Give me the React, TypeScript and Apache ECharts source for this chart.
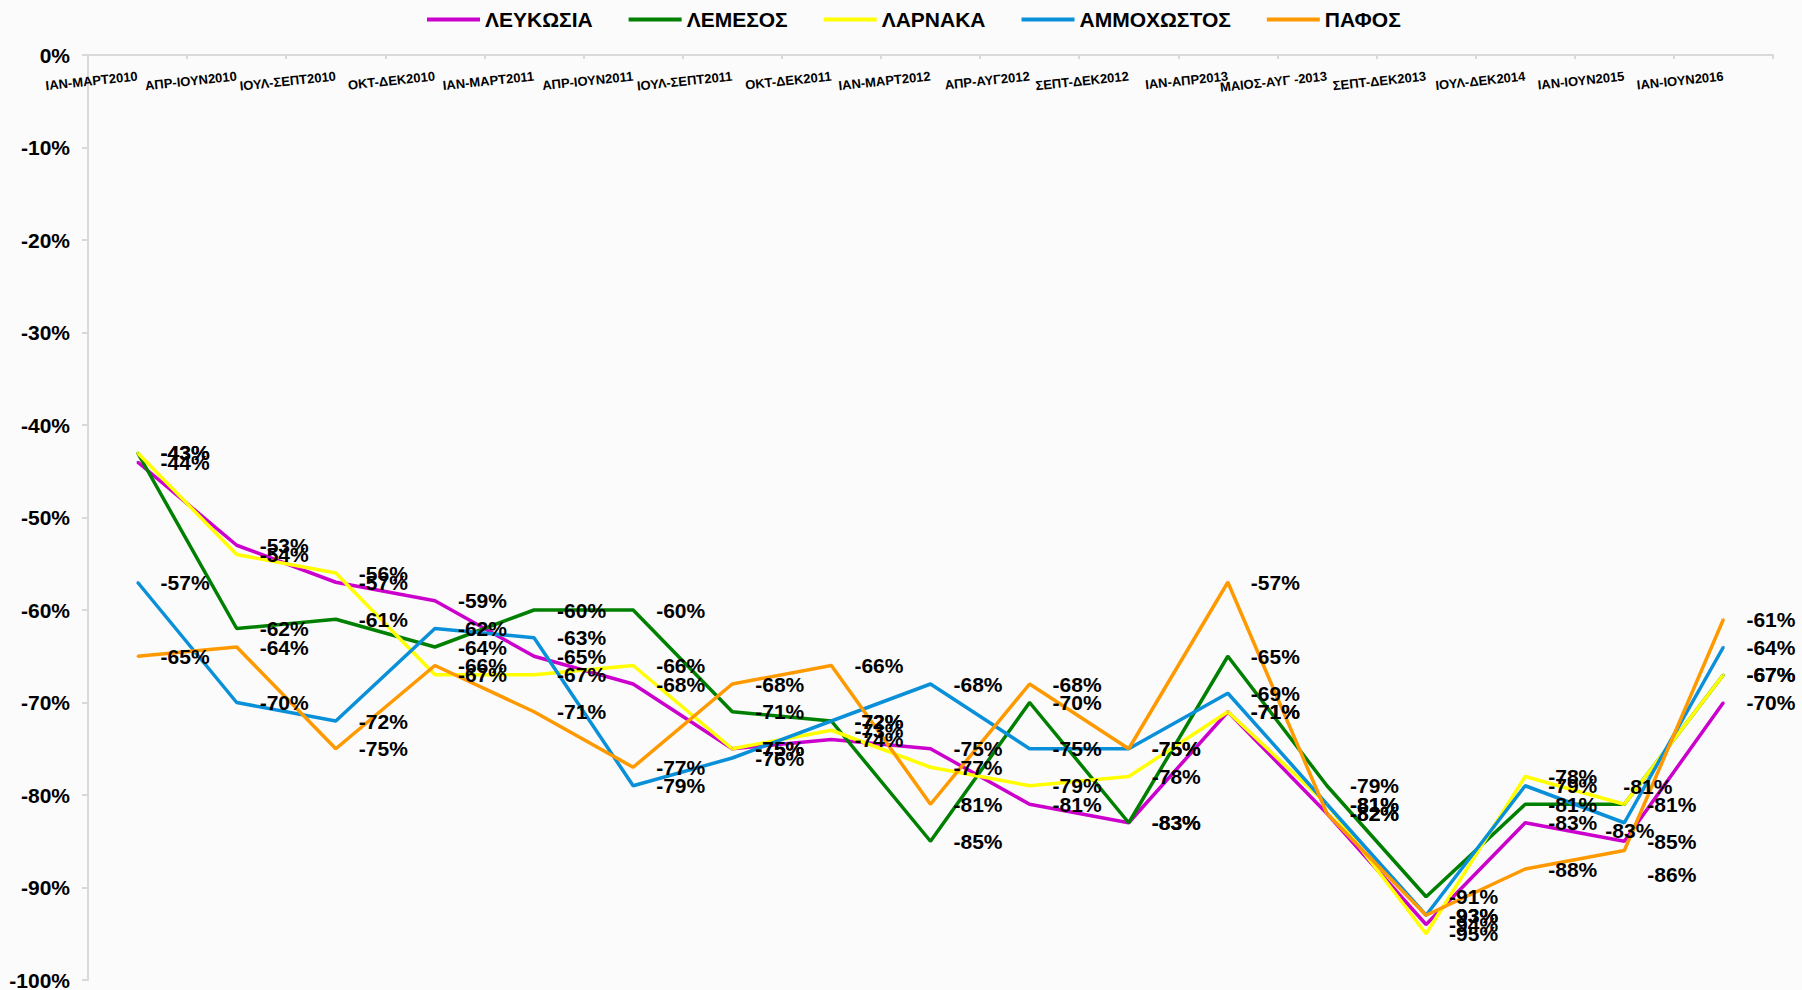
import React, { useEffect, useRef } from "react";
import * as echarts from "echarts";

const categories = [
  "ΙΑΝ-ΜΑΡΤ2010",
  "ΑΠΡ-ΙΟΥΝ2010",
  "ΙΟΥΛ-ΣΕΠΤ2010",
  "ΟΚΤ-ΔΕΚ2010",
  "ΙΑΝ-ΜΑΡΤ2011",
  "ΑΠΡ-ΙΟΥΝ2011",
  "ΙΟΥΛ-ΣΕΠΤ2011",
  "ΟΚΤ-ΔΕΚ2011",
  "ΙΑΝ-ΜΑΡΤ2012",
  "ΑΠΡ-ΑΥΓ2012",
  "ΣΕΠΤ-ΔΕΚ2012",
  "ΙΑΝ-ΑΠΡ2013",
  "ΜΑΙΟΣ-ΑΥΓ -2013",
  "ΣΕΠΤ-ΔΕΚ2013",
  "ΙΟΥΛ-ΔΕΚ2014",
  "ΙΑΝ-ΙΟΥΝ2015",
  "ΙΑΝ-ΙΟΥΝ2016",
];

const lefkosia = [-44, -53, -57, -59, -65, -68, -75, -74, -75, -81, -83, -71, -82, -94, -83, -85, -70];
const lemesos = [-43, -62, -61, -64, -60, -60, -71, -72, -85, -70, -83, -65, -79, -91, -81, -81, -67];
const larnaka = [-43, -54, -56, -67, -67, -66, -75, -73, -77, -79, -78, -71, -81, -95, -78, -81, -67];
const ammochostos = [-57, -70, -72, -62, -63, -79, -76, -72, -68, -75, -75, -69, -81, -93, -79, -83, -64];
const pafos = [-65, -64, -75, -66, -71, -77, -68, -66, -81, -68, -75, -57, -82, -93, -88, -86, -61];

const seriesDefs = [
  { name: "ΛΕΥΚΩΣΙΑ", data: lefkosia, color: "#CC00CC" },
  { name: "ΛΕΜΕΣΟΣ", data: lemesos, color: "#008000" },
  { name: "ΛΑΡΝΑΚΑ", data: larnaka, color: "#FFFF00" },
  { name: "ΑΜΜΟΧΩΣΤΟΣ", data: ammochostos, color: "#0A90D8" },
  { name: "ΠΑΦΟΣ", data: pafos, color: "#FF9900" },
];

// hand-moved data labels in the reference: [series index, point index, dx, dy]
const labelMoves: [number, number, number, number][] = [
  [2, 15, -24, -18],
  [3, 15, -42, 8],
  [4, 15, 0, 24],
];

const FONT = "'Liberation Sans', Arial, sans-serif";

export default function App() {
  const ref = useRef<HTMLDivElement>(null);

  useEffect(() => {
    if (!ref.current) return;
    const chart = echarts.init(ref.current, null, { renderer: "svg" });
    const option = {
      animation: false,
      backgroundColor: "#fbfbfb",
      textStyle: { fontFamily: FONT },
      legend: {
        top: 4,
        left: 422,
        icon: "rect",
        itemWidth: 53,
        itemHeight: 4,
        itemGap: 36,
        textStyle: { fontSize: 21, fontWeight: "bold", color: "#000", fontFamily: FONT },
        data: seriesDefs.map((s) => s.name),
      },
      grid: {
        left: 88,
        right: 29,
        top: 55,
        bottom: 10,
        containLabel: false,
        outerBoundsMode: "none",
      },
      xAxis: {
        type: "category",
        position: "top",
        data: categories,
        boundaryGap: true,
        axisLine: { onZero: false, lineStyle: { color: "#d9d9d9", width: 2 } },
        axisTick: { show: true, inside: true, length: 4, lineStyle: { color: "#d9d9d9", width: 2 } },
        axisLabel: {
          inside: true,
          interval: 0,
          rotate: -6,
          align: "right",
          verticalAlign: "middle",
          margin: 21,
          fontSize: 13,
          fontWeight: "bold",
          color: "#000",
          fontFamily: FONT,
        },
        splitLine: { show: false },
      },
      yAxis: {
        type: "value",
        min: -100,
        max: 0,
        interval: 10,
        axisLine: { show: true, lineStyle: { color: "#d9d9d9", width: 2 } },
        axisTick: { show: true, length: 6, lineStyle: { color: "#d9d9d9", width: 2 } },
        axisLabel: {
          formatter: (v: number) => `${v}%`,
          fontSize: 21,
          fontWeight: "bold",
          color: "#000",
          margin: 18,
          fontFamily: FONT,
        },
        splitLine: { show: false },
      },
      series: seriesDefs.map((s, si) => ({
        name: s.name,
        type: "line",
        data: s.data.map((v, i) => {
          const mv = labelMoves.find((m) => m[0] === si && m[1] === i);
          return mv ? { value: v, label: { offset: [mv[2], mv[3]] } } : v;
        }),
        symbol: "circle",
        symbolSize: 2,
        showSymbol: true,
        itemStyle: { color: s.color },
        lineStyle: { color: s.color, width: 3.5 },
        label: {
          show: true,
          position: "right",
          distance: 22,
          formatter: (p: any) => `${p.value}%`,
          fontSize: 21,
          fontWeight: "bold",
          color: "#000",
          fontFamily: FONT,
        },
      })),
    };
    chart.setOption(option as any);
    return () => chart.dispose();
  }, []);

  return (
    <div
      ref={ref}
      style={{ position: "fixed", left: 0, top: 0, width: 1802, height: 990, background: "#fbfbfb" }}
    />
  );
}
